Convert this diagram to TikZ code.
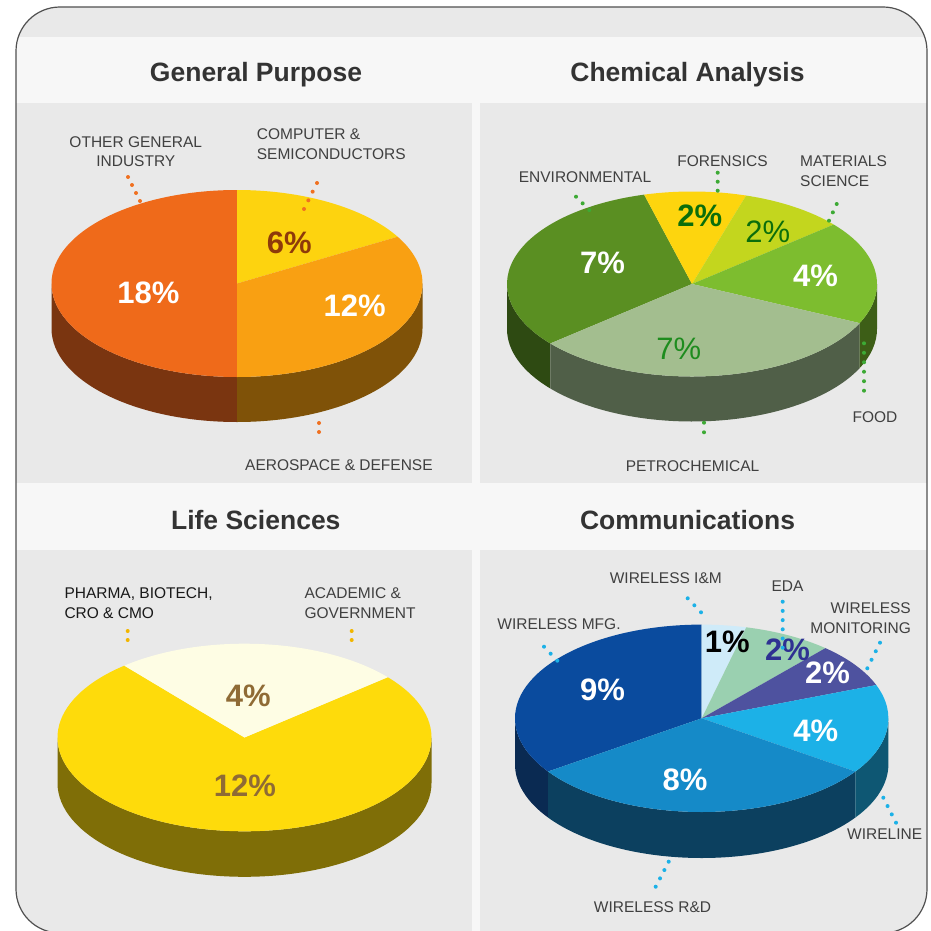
\documentclass[tikz,border=0pt]{standalone}
\usepackage{fontspec}
\setmainfont{Liberation Sans}
\usetikzlibrary{calc}
\definecolor{panel}{HTML}{E9E9E9}
\definecolor{band}{HTML}{F7F7F7}
\definecolor{frame}{HTML}{505050}
\definecolor{titlec}{HTML}{333333}
\definecolor{labc}{HTML}{404040}
% general purpose
\definecolor{gpOther}{HTML}{EF6A1A}
\definecolor{gpComp}{HTML}{FDD30F}
\definecolor{gpAero}{HTML}{F9A012}
\definecolor{gpOtherS}{HTML}{7A3510}
\definecolor{gpAeroS}{HTML}{7F5208}
\definecolor{gpSix}{HTML}{8E3A0A}
\definecolor{gpDot}{HTML}{F07020}
% chemical
\definecolor{chEnv}{HTML}{5A8F22}
\definecolor{chFor}{HTML}{FDD50E}
\definecolor{chMat}{HTML}{C3D61E}
\definecolor{chFood}{HTML}{7DBD2F}
\definecolor{chPet}{HTML}{A3BE8F}
\definecolor{chEnvS}{HTML}{2E4A12}
\definecolor{chPetS}{HTML}{505F48}
\definecolor{chFoodS}{HTML}{3D5E17}
\definecolor{chDark}{HTML}{0B6E0B}
\definecolor{chMid}{HTML}{1E8C1E}
\definecolor{chDot}{HTML}{3DAA35}
% life
\definecolor{lsPh}{HTML}{FEDB0B}
\definecolor{lsAc}{HTML}{FEFDE4}
\definecolor{lsS}{HTML}{7F6E07}
\definecolor{lsTxt}{HTML}{8F6B35}
\definecolor{lsDot}{HTML}{F2B600}
% comm
\definecolor{cmMfg}{HTML}{0A4B9E}
\definecolor{cmRd}{HTML}{158AC8}
\definecolor{cmWl}{HTML}{1CB1E7}
\definecolor{cmMon}{HTML}{4E529F}
\definecolor{cmEda}{HTML}{9AD0B0}
\definecolor{cmIm}{HTML}{CFEBF9}
\definecolor{cmMfgS}{HTML}{0A2A52}
\definecolor{cmRdS}{HTML}{0C405F}
\definecolor{cmWlS}{HTML}{0E5773}
\definecolor{cmEdaT}{HTML}{2E3192}
\definecolor{cmDot}{HTML}{1CB1E7}

\newcommand\slicetop[4]{\fill[#4] (#1) -- ([shift={(#2:\rx\space and \ry)}]#1) arc[start angle=#2, end angle=#3, x radius=\rx, y radius=\ry] -- cycle;}
\newcommand\sliceside[4]{\fill[#4] ([shift={(#2:\rx\space and \ry)}]#1) arc[start angle=#2, end angle=#3, x radius=\rx, y radius=\ry] -- ++(0,-\dep) arc[start angle=#3, end angle=#2, x radius=\rx, y radius=\ry] -- cycle;}
\newcommand\leaderdots[4]{\foreach \i in {0,...,#3} \fill[#4] ($(#1)!{\i/#3}!(#2)$) circle[radius=2];}

\begin{document}
\begin{tikzpicture}[x=1pt,y=1pt,
  title/.style={font=\fontsize{26.5}{30}\selectfont\bfseries, text=titlec, inner sep=0pt, anchor=base},
  lab/.style={font=\fontsize{15.5}{19.5}\selectfont, text=labc, inner sep=0pt, anchor=base},
  pct/.style={font=\fontsize{31}{34}\selectfont\bfseries, inner sep=0pt, anchor=base},
  pctr/.style={font=\fontsize{31}{34}\selectfont, inner sep=0pt, anchor=base}]
\useasboundingbox (0,0) rectangle (930,-931);
\fill[white] (0,0) rectangle (930,-931);
% frame and panels
\begin{scope}
\clip[rounded corners=44] (16,-7) rectangle (927,-933);
\fill[panel] (0,0) rectangle (930,-931);
\fill[band] (16,-37) rectangle (927,-103);
\fill[band] (16,-483) rectangle (927,-550);
\fill[band] (472,-103) rectangle (480,-931);
\end{scope}
\draw[frame, line width=1.2pt, rounded corners=44] (16,-7) rectangle (927,-933);

% titles
\node[title] (t1) at (256,-81.7) {General Purpose};
\node[title] (t2) at (687.5,-81.7) {Chemical Analysis};
\node[title] (t3) at (255.8,-529.3) {Life Sciences};
\node[title] (t4) at (687.5,-529.3) {Communications};

% ===== General Purpose pie =====
\def\rx{185.5}\def\ry{93.5}\def\dep{45}
\coordinate (gp) at (237,-283.5);
\sliceside{gp}{180}{270}{gpOtherS}
\sliceside{gp}{270}{360}{gpAeroS}
\slicetop{gp}{90}{270}{gpOther}
\slicetop{gp}{30}{90}{gpComp}
\slicetop{gp}{-90}{30}{gpAero}
\node[pct, text=white] (gp18) at (148.3,-303.3) {18\%};
\node[pct, text=gpSix] (gp6) at (289.2,-253.3) {6\%};
\node[pct, text=white] (gp12) at (354.7,-316.7) {12\%};
\node[lab, align=center] (lOther) at (135.8,-166.7) {OTHER GENERAL\\INDUSTRY};
\node[lab, align=left, anchor=base west] (lComp) at (256.7,-159.3) {COMPUTER \&\\SEMICONDUCTORS};
\node[lab, anchor=base west] (lAero) at (245,-470.5) {AEROSPACE \& DEFENSE};
\coordinate (d1a) at (128,-177); \coordinate (d1b) at (140,-201);
\coordinate (d2a) at (317,-183); \coordinate (d2b) at (304,-209);
\coordinate (d3a) at (319,-423); \coordinate (d3b) at (319,-432);
\leaderdots{d1a}{d1b}{3}{gpDot}
\leaderdots{d2a}{d2b}{3}{gpDot}
\leaderdots{d3a}{d3b}{1}{gpDot}

% ===== Chemical Analysis pie =====
\def\rx{185}\def\ry{92.5}\def\dep{45}
\coordinate (ch) at (692,-284);
\sliceside{ch}{180}{220}{chEnvS}
\sliceside{ch}{220}{335}{chPetS}
\sliceside{ch}{335}{360}{chFoodS}
\slicetop{ch}{105}{220}{chEnv}
\slicetop{ch}{73}{105}{chFor}
\slicetop{ch}{40}{73}{chMat}
\slicetop{ch}{-25}{40}{chFood}
\slicetop{ch}{-140}{-25}{chPet}
\node[pct, text=white] (ch7a) at (602.5,-273.3) {7\%};
\node[pct, text=chDark] (ch2a) at (699.7,-226.7) {2\%};
\node[pctr, text=chDark] (ch2b) at (767.8,-242.7) {2\%};
\node[pct, text=white] (ch4) at (815.5,-286.7) {4\%};
\node[pctr, text=chMid] (ch7b) at (678.8,-359.3) {7\%};
\node[lab] (lEnv) at (585,-182.7) {ENVIRONMENTAL};
\node[lab] (lFor) at (722.5,-166.7) {FORENSICS};
\node[lab, align=left, anchor=base west] (lMat) at (800,-186) {MATERIALS\\SCIENCE};
\node[lab] (lFood) at (875,-422.7) {FOOD};
\node[lab] (lPet) at (692.5,-471.5) {PETROCHEMICAL};
\coordinate (e1) at (576,-196.7); \coordinate (e2) at (589.3,-210);
\coordinate (f1) at (717.7,-172.7); \coordinate (f2) at (717.7,-190.7);
\coordinate (m1) at (836.7,-204); \coordinate (m2) at (829,-220.7);
\coordinate (fo1) at (864,-343.3); \coordinate (fo2) at (864,-390.7);
\coordinate (p1) at (704,-422.7); \coordinate (p2) at (704,-432.3);
\leaderdots{e1}{e2}{2}{chDot}
\leaderdots{f1}{f2}{2}{chDot}
\leaderdots{m1}{m2}{2}{chDot}
\leaderdots{fo1}{fo2}{5}{chDot}
\leaderdots{p1}{p2}{1}{chDot}

% ===== Life Sciences pie =====
\def\rx{187}\def\ry{93.8}\def\dep{45.5}
\coordinate (ls) at (244.5,-737.5);
\sliceside{ls}{180}{360}{lsS}
\slicetop{ls}{130}{400}{lsPh}
\slicetop{ls}{40}{130}{lsAc}
\node[pct, text=lsTxt] (ls4) at (248.3,-706.7) {4\%};
\node[pct, text=lsTxt] (ls12) at (245,-796) {12\%};
\node[lab, text=black!90, align=left, anchor=base west] (lPh) at (64.3,-618.3) {PHARMA, BIOTECH,\\CRO \& CMO};
\node[lab, align=left, anchor=base west] (lAc) at (304.3,-618.3) {ACADEMIC \&\\GOVERNMENT};
\coordinate (ph1) at (127.7,-631); \coordinate (ph2) at (127.7,-640);
\coordinate (ac1) at (351.7,-631); \coordinate (ac2) at (351.7,-640);
\leaderdots{ph1}{ph2}{1}{lsDot}
\leaderdots{ac1}{ac2}{1}{lsDot}

% ===== Communications pie =====
\def\rx{186.7}\def\ry{93.7}\def\dep{46}
\coordinate (cm) at (701.7,-718.3);
\sliceside{cm}{180}{214.6}{cmMfgS}
\sliceside{cm}{214.6}{325.4}{cmRdS}
\sliceside{cm}{325.4}{360}{cmWlS}
\slicetop{cm}{90}{214.6}{cmMfg}
\slicetop{cm}{76.2}{90}{cmIm}
\slicetop{cm}{48.5}{76.2}{cmEda}
\slicetop{cm}{20.8}{48.5}{cmMon}
\slicetop{cm}{-34.6}{20.8}{cmWl}
\slicetop{cm}{-145.4}{-34.6}{cmRd}
\node[pct, text=black] (cm1) at (727.2,-652.7) {1\%};
\node[pct, text=cmEdaT] (cm2a) at (787.5,-660) {2\%};
\node[pct, text=white] (cm2b) at (827.5,-683.3) {2\%};
\node[pct, text=white] (cm4) at (815.8,-741.7) {4\%};
\node[pct, text=white] (cm8) at (685,-790.7) {8\%};
\node[pct, text=white] (cm9) at (602.5,-700.7) {9\%};
\node[lab] (lIm) at (665.8,-583.3) {WIRELESS I\&M};
\node[lab] (lEda) at (787.5,-591) {EDA};
\node[lab, align=right, anchor=base east] (lMon) at (911,-633.3) {WIRELESS\\MONITORING};
\node[lab] (lMfg) at (559,-629.3) {WIRELESS MFG.};
\node[lab] (lWl) at (884.7,-839) {WIRELINE};
\node[lab] (lRd) at (652.5,-912.7) {WIRELESS R\&D};
\coordinate (im1) at (687.7,-598.3); \coordinate (im2) at (701,-612.3);
\coordinate (ed1) at (782.7,-601.7); \coordinate (ed2) at (782.7,-647.7);
\coordinate (mo1) at (880,-642.7); \coordinate (mo2) at (867.3,-668.3);
\coordinate (mf1) at (544,-646.7); \coordinate (mf2) at (557.3,-660.7);
\coordinate (wl1) at (883.3,-797.7); \coordinate (wl2) at (896,-822.7);
\coordinate (rd1) at (668.7,-861.7); \coordinate (rd2) at (655.7,-886.7);
\leaderdots{im1}{im2}{2}{cmDot}
\leaderdots{ed1}{ed2}{5}{cmDot}
\leaderdots{mo1}{mo2}{3}{cmDot}
\leaderdots{mf1}{mf2}{2}{cmDot}
\leaderdots{wl1}{wl2}{3}{cmDot}
\leaderdots{rd1}{rd2}{3}{cmDot}
\end{tikzpicture}
\end{document}
